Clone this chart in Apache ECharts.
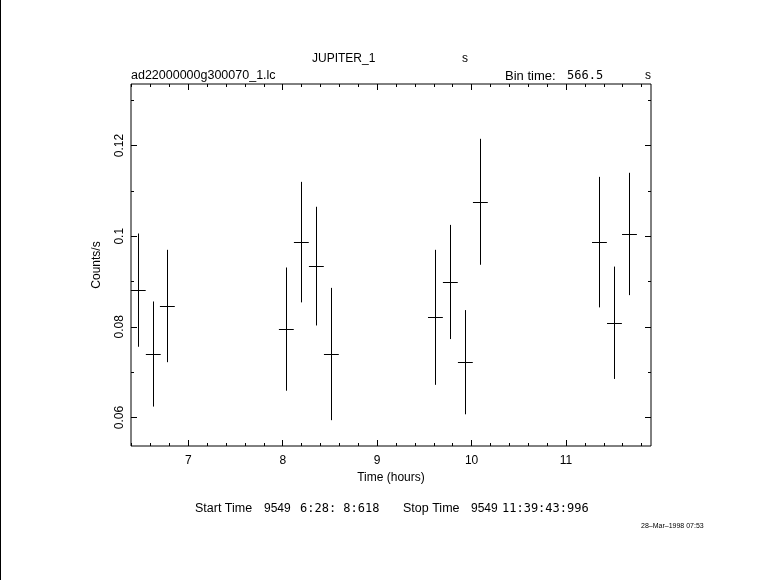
<!DOCTYPE html>
<html>
<head>
<meta charset="utf-8">
<script src="https://cdn.jsdelivr.net/npm/echarts@6/dist/echarts.min.js"></script>
<style>
html,body{margin:0;padding:0;background:#fff;}
#chart{width:781px;height:580px;}
</style>
</head>
<body>
<div id="chart"></div>
<script>
// ---- data ----
var times  = [6.470, 6.629, 6.778, 8.038, 8.197, 8.356, 8.515, 9.617, 9.775, 9.934, 10.093, 11.354, 11.513, 11.672];
var rates  = [0.0881, 0.0740, 0.0846, 0.0795, 0.0987, 0.0934, 0.0740, 0.0821, 0.0899, 0.0722, 0.1076, 0.0987, 0.0809, 0.1005];
var errors = [0.0125, 0.0116, 0.0124, 0.0136, 0.0133, 0.0131, 0.0146, 0.0149, 0.0126, 0.0115, 0.0139, 0.0144, 0.0124, 0.0135];
var binTimeSec = 566.5;

var xMajorTicks = [7, 8, 9, 10, 11];
var xMinorTicks = [6.4, 6.6, 6.8, 7.0, 7.2, 7.4, 7.6, 7.8, 8.0, 8.2, 8.4, 8.6, 8.8, 9.0, 9.2, 9.4, 9.6, 9.8, 10.0, 10.2, 10.4, 10.6, 10.8, 11.0, 11.2, 11.4, 11.6, 11.8];
var yMajorTicks = [0.06, 0.08, 0.1, 0.12];
var yMinorTicks = [0.06, 0.07, 0.08, 0.09, 0.1, 0.11, 0.12, 0.13];

var xMin = 6.393, xMax = 11.900;
var yMin = 0.0537, yMax = 0.1336;

var FONT = '"Liberation Sans", Arial, sans-serif';
var MONO = '"DejaVu Sans Mono", "Liberation Mono", monospace';

var chart = echarts.init(document.getElementById('chart'), null, {renderer: 'canvas'});

function xAx(pos, ticks, len, withLabel) {
  var a = {
    type: 'value', gridIndex: 0, position: pos, min: xMin, max: xMax,
    axisLine: {show: false}, splitLine: {show: false},
    axisTick: {show: true, inside: true, length: len, customValues: ticks, lineStyle: {color: '#000', width: 1}},
    axisLabel: {show: false}
  };
  if (withLabel) {
    a.axisLabel = {show: true, customValues: ticks, color: '#000', fontSize: 12, fontFamily: FONT, margin: 9};
    a.name = 'Time (hours)';
    a.nameLocation = 'middle';
    a.nameGap = 23;
    a.nameTextStyle = {color: '#000', fontSize: 12, fontFamily: FONT};
  }
  return a;
}
function yAx(pos, ticks, len, withLabel) {
  var a = {
    type: 'value', gridIndex: 0, position: pos, min: yMin, max: yMax,
    axisLine: {show: false}, splitLine: {show: false},
    axisTick: {show: true, inside: true, length: len, customValues: ticks, lineStyle: {color: '#000', width: 1}},
    axisLabel: {show: false}
  };
  if (withLabel) {
    a.axisLabel = {show: true, customValues: ticks, color: '#000', fontSize: 12, fontFamily: FONT, margin: 5, rotate: 90};
    a.name = 'Counts/s';
    a.nameLocation = 'middle';
    a.nameGap = 28;
    a.nameTextStyle = {color: '#000', fontSize: 12, fontFamily: FONT};
  }
  return a;
}

var seriesData = times.map(function (t, i) { return [t, rates[i], errors[i]]; });
var halfBin = binTimeSec / 3600 / 2;

function txt(x, y, s, font) {
  return {type: 'text', x: x, y: y, style: {text: s, fill: '#000', font: font || ('12px ' + FONT), textVerticalAlign: 'middle'}};
}

var option = {
  backgroundColor: '#fff',
  animation: false,
  grid: {left: 131, top: 84, right: 130, bottom: 134, show: true, borderColor: '#000', borderWidth: 1, backgroundColor: 'transparent'},
  xAxis: [
    xAx('bottom', xMajorTicks, 6, true),
    xAx('bottom', xMinorTicks, 3, false),
    xAx('top', xMajorTicks, 6, false),
    xAx('top', xMinorTicks, 3, false)
  ],
  yAxis: [
    yAx('left', yMajorTicks, 6, true),
    yAx('left', yMinorTicks, 3, false),
    yAx('right', yMajorTicks, 6, false),
    yAx('right', yMinorTicks, 3, false)
  ],
  series: [{
    type: 'custom',
    xAxisIndex: 0, yAxisIndex: 0,
    data: seriesData,
    renderItem: function (params, api) {
      var t = api.value(0), r = api.value(1), e = api.value(2);
      var top = api.coord([t, r + e]);
      var bot = api.coord([t, r - e]);
      var l = api.coord([t - halfBin, r]);
      var rr = api.coord([t + halfBin, r]);
      var st = {stroke: '#000', lineWidth: 1};
      return {
        type: 'group',
        children: [
          {type: 'line', shape: {x1: Math.round(top[0]) + 0.5, y1: top[1], x2: Math.round(bot[0]) + 0.5, y2: bot[1]}, style: st},
          {type: 'line', shape: {x1: l[0], y1: Math.round(l[1]) + 0.5, x2: rr[0], y2: Math.round(rr[1]) + 0.5}, style: st}
        ]
      };
    }
  }],
  graphic: [
    {type: 'line', shape: {x1: 0.5, y1: 0, x2: 0.5, y2: 580}, style: {stroke: '#000', lineWidth: 1}},
    txt(312, 59, 'JUPITER_1'),
    txt(462, 59, 's'),
    txt(131, 76, 'ad22000000g300070_1.lc', '12.5px ' + FONT),
    txt(505, 76, 'Bin time:', '13px ' + FONT),
    txt(567, 76, '566.5', '12px ' + MONO),
    txt(645, 76, 's'),
    txt(195, 509, 'Start Time', '12.5px ' + FONT),
    txt(264, 509, '9549'),
    txt(300, 509, '6:28: 8:618', '12px ' + MONO),
    txt(403, 509, 'Stop Time', '12.5px ' + FONT),
    txt(471, 509, '9549'),
    txt(502, 509, '11:39:43:996', '12px ' + MONO),
    txt(641, 526, '28\u2013Mar\u20131998 07:53', '7px ' + FONT)
  ]
};
chart.setOption(option);
</script>
</body>
</html>
